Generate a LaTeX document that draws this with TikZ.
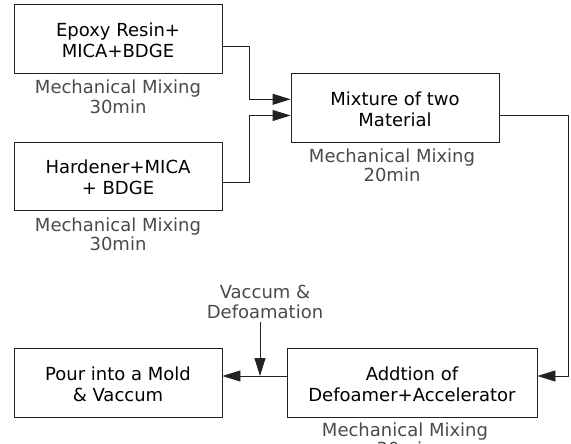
\documentclass[tikz,border=0pt]{standalone}
\usepackage{fontspec}
\setmainfont{DejaVu Sans}
\usetikzlibrary{arrows.meta,calc}
\definecolor{lbl}{HTML}{4A4A4A}
\definecolor{ln}{HTML}{222222}
\newcommand{\lowr}[1]{\raisebox{-4pt}[\height][\depth]{\begin{tabular}{@{}c@{}}#1\end{tabular}}}
\begin{document}
\begin{tikzpicture}[x=1pt,y=-1pt,
  box/.style={draw=ln,line width=0.9pt,inner sep=0pt,
    font=\fontsize{18}{21}\selectfont,text=black},
  lab/.style={inner sep=0pt,align=center,anchor=base,
    font=\fontsize{18}{19.5}\selectfont,text=lbl},
  conn/.style={draw=ln,line width=0.9pt,-{Triangle[length=18pt,width=11pt]}}]
\useasboundingbox (0,0) rectangle (571,444);
\node[box,minimum width=208pt,minimum height=69pt] (b1) at (118,38.5) {\lowr{Epoxy Resin+\\MICA+BDGE}};
\node[box,minimum width=208pt,minimum height=68pt] (b2) at (118,176) {\lowr{Hardener+MICA\\+ BDGE}};
\node[box,minimum width=208pt,minimum height=69pt] (b3) at (395,107.5) {\lowr{Mixture of two\\Material}};
\node[box,minimum width=208pt,minimum height=69pt] (b4) at (118,382.5) {\lowr{Pour into a Mold\\\& Vaccum}};
\node[box,minimum width=250pt,minimum height=69pt] (b5) at (412,382.5) {\lowr{Addtion of\\Defoamer+Accelerator}};
\node[lab] (l1) at (118,113.5) {Mechanical Mixing\\30min};
\node[lab] (l2) at (118,250.5) {Mechanical Mixing\\30min};
\node[lab] (l3) at (392,181.5) {Mechanical Mixing\\20min};
\node[lab] (l5) at (405,455.5) {Mechanical Mixing\\30min};
\node[lab] (l4) at (265,318) {Vaccum \&\\Defoamation};
\coordinate (j) at (260,376);
\coordinate (v) at (260,322);
\draw[conn] ($(b1.east)+(0,8.2)$) -| (249,99.3) -- ($(b3.west)+(0,-8.2)$);
\draw[conn] ($(b2.east)+(0,6.7)$) -| (249,115.5) -- ($(b3.west)+(0,8)$);
\draw[conn] ($(b3.east)+(0,7.5)$) -| (568,376) -- ($(b5.east)+(0,-6.5)$);
\draw[conn] ($(b5.west)+(0,-6.5)$) -- ($(b4.east)+(0,-6.5)$);
\draw[conn] (v) -- (j);
\end{tikzpicture}
\end{document}
